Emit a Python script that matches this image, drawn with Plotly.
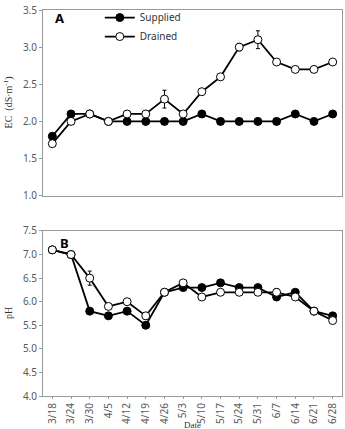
import plotly.graph_objects as go
from plotly.subplots import make_subplots

dates = ["3/18", "3/24", "3/30", "4/5", "4/12", "4/19", "4/26", "5/3", "5/10",
         "5/17", "5/24", "5/31", "6/7", "6/14", "6/21", "6/28"]
ec_supplied = [1.8, 2.1, 2.1, 2.0, 2.0, 2.0, 2.0, 2.0, 2.1, 2.0, 2.0, 2.0, 2.0, 2.1, 2.0, 2.1]
ec_drained = [1.7, 2.0, 2.1, 2.0, 2.1, 2.1, 2.3, 2.1, 2.4, 2.6, 3.0, 3.1, 2.8, 2.7, 2.7, 2.8]
ec_drained_err = [0, 0, 0, 0, 0, 0, 0.12, 0, 0, 0.03, 0.05, 0.12, 0, 0, 0, 0]
ph_supplied = [7.1, 7.0, 5.8, 5.7, 5.8, 5.5, 6.2, 6.3, 6.3, 6.4, 6.3, 6.3, 6.1, 6.2, 5.8, 5.7]
ph_drained = [7.1, 7.0, 6.5, 5.9, 6.0, 5.7, 6.2, 6.4, 6.1, 6.2, 6.2, 6.2, 6.2, 6.1, 5.8, 5.6]
ph_drained_err = [0, 0, 0.15, 0.05, 0.05, 0.07, 0, 0, 0, 0, 0, 0, 0.08, 0, 0, 0]

fig = make_subplots(rows=2, cols=1, shared_xaxes=False, vertical_spacing=0.09)

sup_style = dict(mode="lines+markers", line=dict(color="black", width=1.8),
                 marker=dict(symbol="circle", size=8, color="black",
                             line=dict(color="black", width=1)))
dr_style = dict(mode="lines+markers", line=dict(color="black", width=1.8),
                marker=dict(symbol="circle", size=8, color="white",
                            line=dict(color="black", width=1)))

fig.add_trace(go.Scatter(x=dates, y=ec_supplied, name="Supplied", **sup_style), row=1, col=1)
fig.add_trace(go.Scatter(x=dates, y=ec_drained, name="Drained",
                         error_y=dict(type="data", array=ec_drained_err, color="black",
                                      thickness=1, width=2),
                         **dr_style), row=1, col=1)
fig.add_trace(go.Scatter(x=dates, y=ph_supplied, name="Supplied", showlegend=False, **sup_style), row=2, col=1)
fig.add_trace(go.Scatter(x=dates, y=ph_drained, name="Drained", showlegend=False,
                         error_y=dict(type="data", array=ph_drained_err, color="black",
                                      thickness=1, width=2),
                         **dr_style), row=2, col=1)

tickfont = dict(family="Noto Sans, sans-serif", size=10, color="#595959")
axcommon = dict(showgrid=False, zeroline=False, showline=True, linecolor="#999999",
                linewidth=1, mirror=True, ticks="outside", ticklen=3, tickcolor="#999999",
                tickfont=tickfont)

fig.update_xaxes(type="category", range=[-0.5, 15.5], **axcommon)
fig.update_xaxes(showticklabels=False, ticks="", row=1, col=1)
fig.update_xaxes(tickangle=-90, ticklen=2, row=2, col=1)
fig.update_yaxes(**axcommon)
fig.update_yaxes(range=[1.0, 3.5], dtick=0.5, tickformat=".1f", row=1, col=1)
fig.update_yaxes(range=[4.0, 7.5], dtick=0.5, tickformat=".1f", row=2, col=1)

fig.update_layout(
    xaxis=dict(domain=[0, 1]),
    yaxis=dict(domain=[0.519, 1.0]),
    yaxis2=dict(domain=[0.0, 0.4275]),
)

serif = dict(family="Liberation Serif, serif", size=10, color="#333333")
fig.add_annotation(text="EC  (dS·m<sup>-1</sup>)", xref="paper", yref="y domain",
                   x=-0.115, y=0.5, textangle=-90, showarrow=False, font=serif,
                   xanchor="center", yanchor="middle")
fig.add_annotation(text="pH", xref="paper", yref="y2 domain",
                   x=-0.115, y=0.5, textangle=-90, showarrow=False, font=serif,
                   xanchor="center", yanchor="middle")
fig.add_annotation(text="Date", xref="paper", yref="paper", x=0.5, y=-0.076,
                   showarrow=False, font=dict(family="Liberation Serif, serif", size=9, color="#333333"),
                   xanchor="center", yanchor="middle")
fig.add_annotation(text="<b>A</b>", xref="paper", yref="y domain", x=0.035, y=0.955,
                   showarrow=False, font=dict(family="Noto Sans, sans-serif", size=13, color="black"),
                   xanchor="left", yanchor="middle")
fig.add_annotation(text="<b>B</b>", xref="paper", yref="y2 domain", x=0.05, y=0.925,
                   showarrow=False, font=dict(family="Noto Sans, sans-serif", size=13, color="black"),
                   xanchor="left", yanchor="middle")

fig.update_layout(
    width=345, height=429,
    margin=dict(l=43, r=3, t=3, b=33),
    paper_bgcolor="white", plot_bgcolor="white",
    showlegend=True,
    legend=dict(x=0.19, y=1.018, xanchor="left", yanchor="top",
                font=dict(family="Noto Sans, sans-serif", size=10, color="#333333"),
                bgcolor="rgba(0,0,0,0)", tracegroupgap=0, itemwidth=30),
)

fig.write_html("out.html")
